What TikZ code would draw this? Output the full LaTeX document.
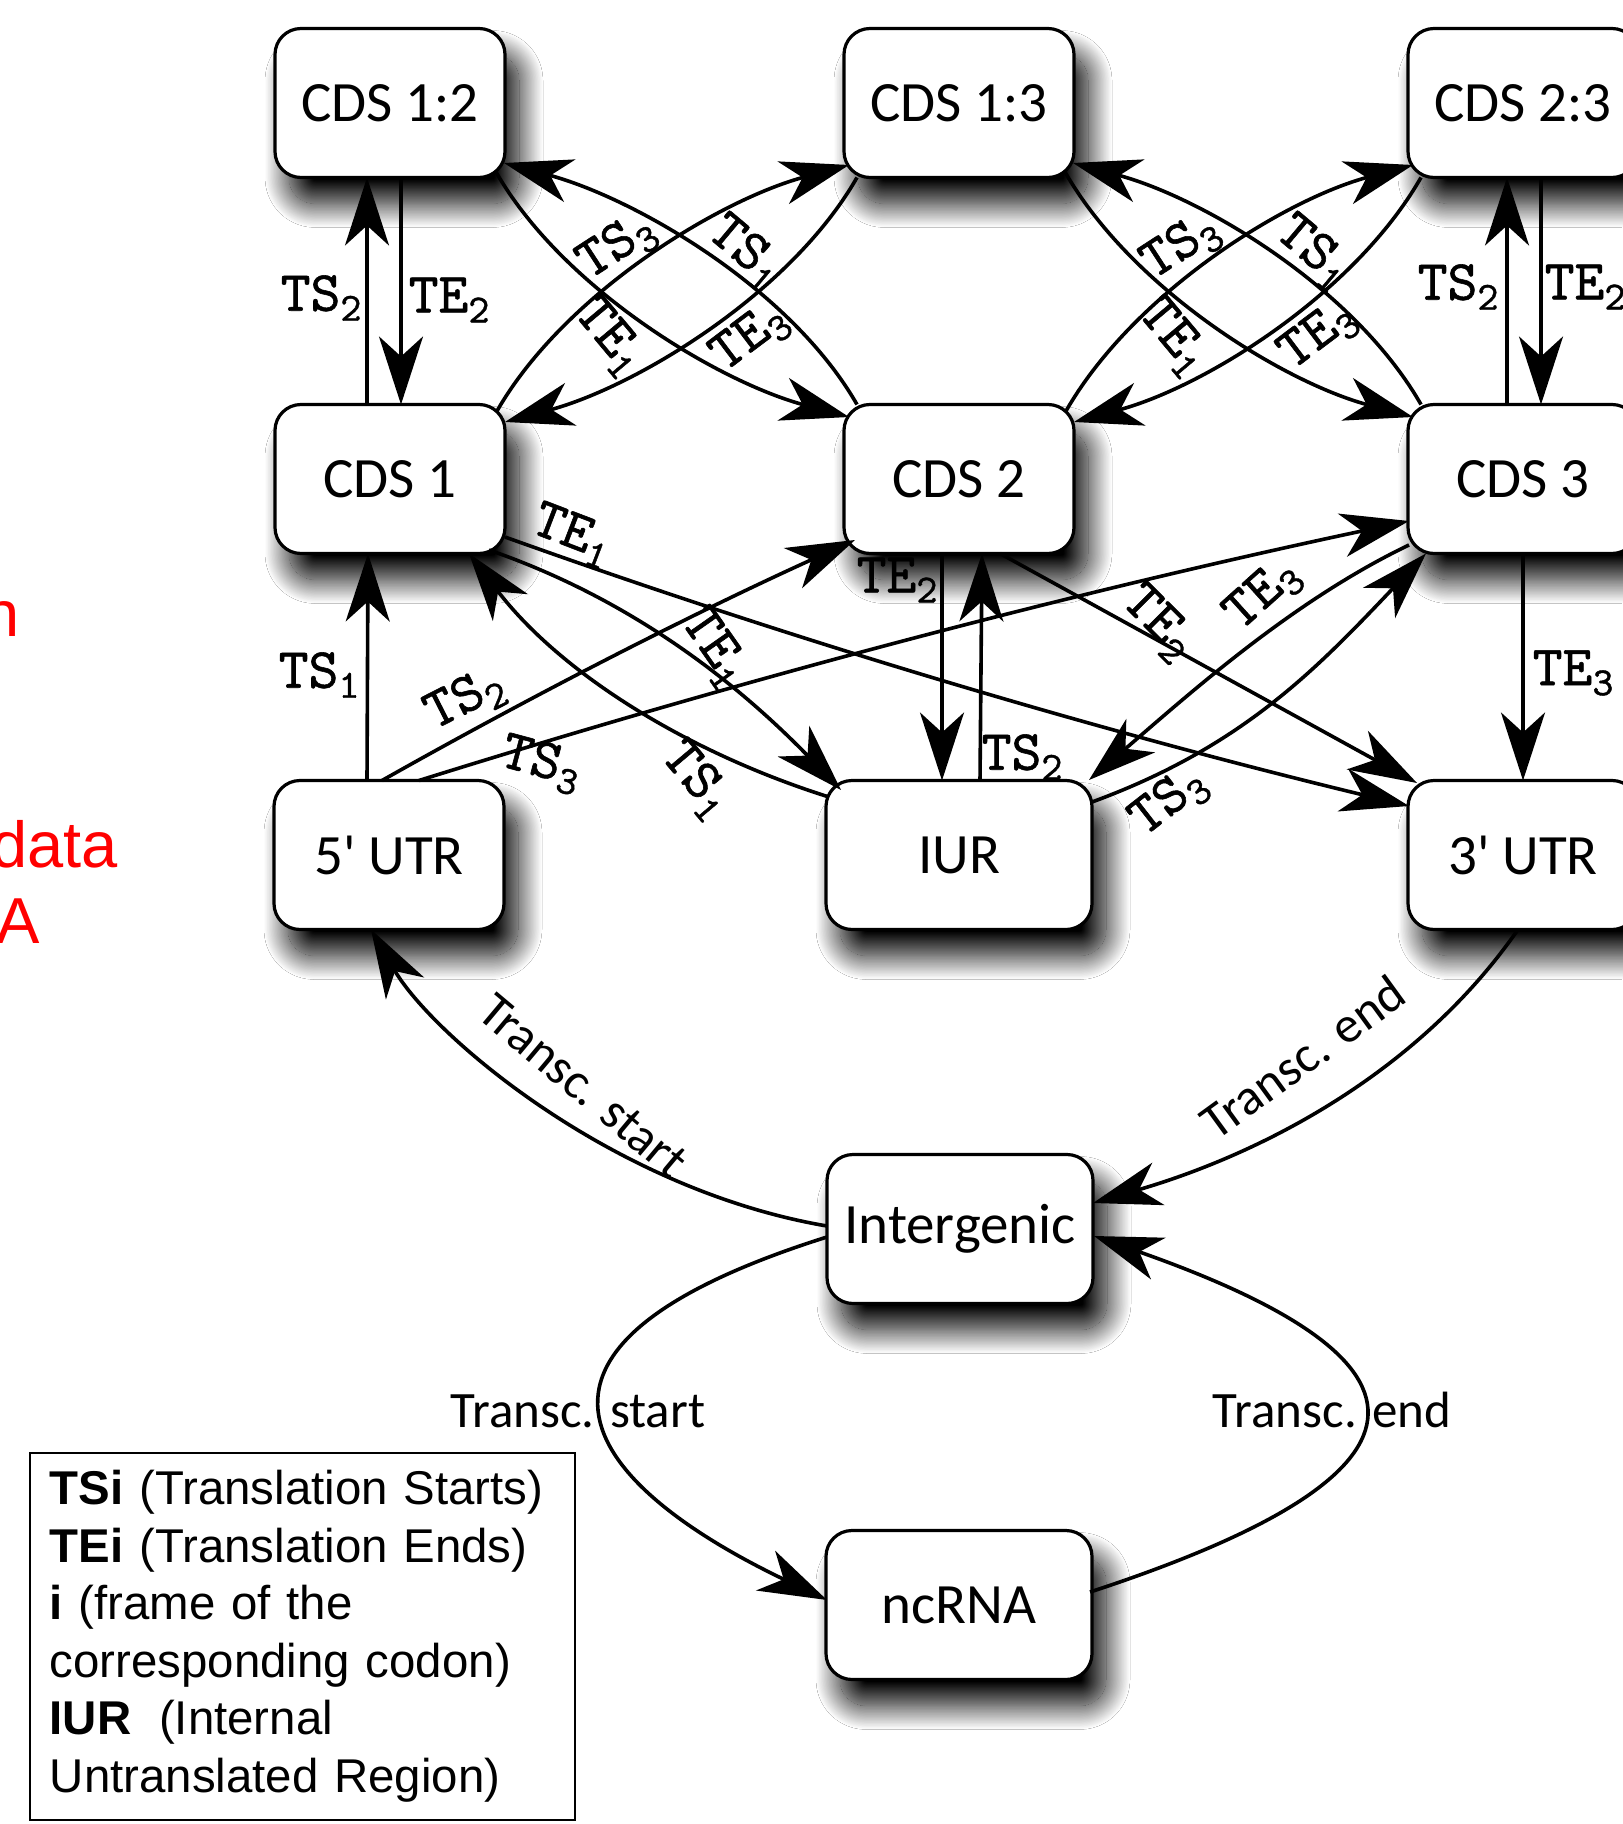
\documentclass[tikz,border=0pt]{standalone}
\usepackage{fontspec}
\setmainfont{Carlito}
\newfontfamily\nodefont{Carlito}
\newfontfamily\legfont{Liberation Sans}
\newfontfamily\labfont{lmmono10-regular.otf}[FakeBold=1]
\usetikzlibrary{arrows.meta,shadows.blur}
\newcommand\mylab[2]{{\labfont #1\raisebox{-5pt}{\fontsize{20}{20}\selectfont #2}}}
\begin{document}
\begin{tikzpicture}[x=0.5pt,y=-0.5pt,
  box/.style={draw=black, line width=1.6pt, fill=white, rounded corners=13pt,
    minimum width=115pt, minimum height=74.5pt, inner sep=0pt,
    font=\nodefont\fontsize{28.5}{30}\selectfont,
    blur shadow={shadow xshift=7pt, shadow yshift=-13pt, shadow blur radius=12pt,
      shadow blur steps=40, shadow opacity=100}},
  wbox/.style={box, minimum width=133pt},
  arr/.style={line width=1.8pt, -{Stealth[length=34pt,width=22pt,inset=10pt]}},
  lab/.style={inner sep=0pt, font=\fontsize{28.5}{30}\selectfont},
  tlab/.style={inner sep=0pt, font=\nodefont\fontsize{25.5}{27}\selectfont},
]
\fill[white] (0,0) rectangle (1622,1824);
\useasboundingbox (0,0) rectangle (1622,1824);

% nodes
\node[box] (c12) at (390,103) {CDS 1:2};
\node[box] (c13) at (959,103) {CDS 1:3};
\node[box] (c23) at (1523,103) {CDS 2:3};
\node[box] (c1) at (390,479) {CDS 1};
\node[box] (c2) at (959,479) {CDS 2};
\node[box] (c3) at (1523,479) {CDS 3};
\node[box] (u5) at (389,855) {5' UTR};
\node[wbox] (iur) at (959,855) {IUR};
\node[box] (u3) at (1523,855) {3' UTR};
\node[wbox] (ig) at (960,1229) {Intergenic};
\node[wbox] (nc) at (959,1605) {ncRNA};

% top-left verticals
\draw[arr] ([shift={(-23,-74.5)}]c1.center) -- ([shift={(-23,74.5)}]c12.center);
\draw[arr] ([shift={(11,74.5)}]c12.center) -- ([shift={(11,-74.5)}]c1.center);
% top-left cross
\draw[arr] ([shift={(106,69)}]c12.center) .. controls +(67,117) and +(-130,-35) .. ([shift={(-110,-62)}]c2.center);
\draw[arr] ([shift={(-102,-74.5)}]c2.center) .. controls +(-67,-117) and +(130,35) .. ([shift={(114,60)}]c12.center);
\draw[arr] ([shift={(107,-68)}]c1.center) .. controls +(67,-117) and +(-130,35) .. ([shift={(-110,62)}]c13.center);
\draw[arr] ([shift={(-102,74.5)}]c13.center) .. controls +(-67,117) and +(130,-35) .. ([shift={(115,-57)}]c1.center);
% top-right cross
\draw[arr] ([shift={(106,69)}]c13.center) .. controls +(67,117) and +(-130,-35) .. ([shift={(-110,-62)}]c3.center);
\draw[arr] ([shift={(-102,-74.5)}]c3.center) .. controls +(-67,-117) and +(130,35) .. ([shift={(114,60)}]c13.center);
\draw[arr] ([shift={(107,-68)}]c2.center) .. controls +(67,-117) and +(-130,35) .. ([shift={(-110,62)}]c23.center);
\draw[arr] ([shift={(-102,74.5)}]c23.center) .. controls +(-67,117) and +(130,-35) .. ([shift={(115,-57)}]c2.center);
% top-right verticals
\draw[arr] ([shift={(-16,-74.5)}]c3.center) -- ([shift={(-16,74.5)}]c23.center);
\draw[arr] ([shift={(18,74.5)}]c23.center) -- ([shift={(18,-74.5)}]c3.center);

% middle
\draw[arr] ([shift={(-22,-74.5)}]u5.center) -- ([shift={(-22,74.5)}]c1.center);
\draw[arr] ([shift={(-7,-74.5)}]u5.center) .. controls +(154,-87) and +(-161,73) .. ([shift={(-104,61)}]c2.center);
\draw[arr] ([shift={(30,-74.5)}]u5.center) .. controls +(326,-102) and +(-334,71) .. ([shift={(-114,42)}]c3.center);
\draw[arr] ([shift={(115,58)}]c1.center) .. controls +(296,106) and +(-306,-74) .. ([shift={(-114,-49)}]u3.center);
\draw[arr] ([shift={(99,71)}]c1.center) .. controls +(142,49) and +(-105,-108) .. ([shift={(-118,-65)}]iur.center);
\draw[arr] ([shift={(-130,-58)}]iur.center) .. controls +(-143,-45) and +(91,119) .. ([shift={(79,74.5)}]c1.center);
\draw[arr] ([shift={(-17,74.5)}]c2.center) -- ([shift={(-17,-74.5)}]iur.center);
\draw[arr] ([shift={(21,-74.5)}]iur.center) -- ([shift={(23,74.5)}]c2.center);
\draw[arr] ([shift={(41,74.5)}]c2.center) -- ([shift={(-106,-72)}]u3.center);
\draw[arr] ([shift={(-114,66)}]c3.center) .. controls +(-117,56) and +(99,-85) .. ([shift={(130,-75)}]iur.center);
\draw[arr] ([shift={(133,-53)}]iur.center) .. controls +(150,-55) and +(-110,116) .. ([shift={(-97,74.5)}]c3.center);
\draw[arr] ([shift={(0,74.5)}]c3.center) -- ([shift={(0,-74.5)}]u3.center);

% bottom
\draw[arr] ([shift={(-133,-3)}]ig.center) .. controls +(-217,-37) and +(60,104) .. ([shift={(-18,74.5)}]u5.center);
\draw[arr] ([shift={(-5,74.5)}]u3.center) .. controls +(-100,144) and +(168,-49) .. ([shift={(133,-26)}]ig.center);
\draw[arr] ([shift={(-133,8)}]ig.center) .. controls +(-378,119) and +(-213,-102) .. ([shift={(-132,-5)}]nc.center);
\draw[arr] ([shift={(131,-13)}]nc.center) .. controls +(336,-110) and +(382,134) .. ([shift={(134,7)}]ig.center);

% labels top
\node[lab] (lA1) at (321,298) {\mylab{TS}{2}};
\node[lab] (lA2) at (449,300) {\mylab{TE}{2}};
\node[lab, rotate=33] (lA3) at (617,247) {\mylab{TS}{3}};
\node[lab, rotate=-40] (lA4) at (745,252) {\mylab{TS}{1}};
\node[lab, rotate=-50] (lA5) at (609,337) {\mylab{TE}{1}};
\node[lab, rotate=37] (lA6) at (750,338) {\mylab{TE}{3}};
\node[lab, rotate=33] (lB3) at (1181,247) {\mylab{TS}{3}};
\node[lab, rotate=-40] (lB4) at (1313,252) {\mylab{TS}{1}};
\node[lab, rotate=-50] (lB5) at (1173,337) {\mylab{TE}{1}};
\node[lab, rotate=37] (lB6) at (1318,336) {\mylab{TE}{3}};
\node[lab] (lB1) at (1458,287) {\mylab{TS}{2}};
\node[lab] (lB2) at (1585,287) {\mylab{TE}{2}};
% labels middle
\node[lab] (lC1) at (319,675) {\mylab{TS}{1}};
\node[lab, rotate=27] (lC2) at (465,700) {\mylab{TS}{2}};
\node[lab, rotate=-15] (lC3) at (541,764) {\mylab{TS}{3}};
\node[lab, rotate=-21] (lC4) at (572,535) {\mylab{TE}{1}};
\node[lab, rotate=-55] (lC5) at (714,648) {\mylab{TE}{1}};
\node[lab, rotate=-50] (lC6) at (696,780) {\mylab{TS}{1}};
\node[lab] (lC7) at (897,580) {\mylab{TE}{2}};
\node[lab] (lC8) at (1022,757) {\mylab{TS}{2}};
\node[lab, rotate=-45] (lC9) at (1158,623) {\mylab{TE}{2}};
\node[lab, rotate=42] (lC10) at (1263,595) {\mylab{TE}{3}};
\node[lab, rotate=38] (lC11) at (1169,802) {\mylab{TS}{3}};
\node[lab] (lC12) at (1573,673) {\mylab{TE}{3}};
% labels bottom
\node[tlab, rotate=-40] (lD1) at (583,1086) {Transc. start};
\node[tlab, rotate=36] (lD2) at (1303,1057) {Transc. end};
\node[tlab, anchor=base] (lD3) at (578,1427) {Transc. start};
\node[tlab, anchor=base] (lD4) at (1332,1427) {Transc. end};

% red fragments
\node[anchor=base east, inner sep=0pt, text=red, font=\legfont\fontsize{32.5}{39}\selectfont] (r1) at (20,636) {n};
\node[anchor=base east, inner sep=0pt, text=red, font=\legfont\fontsize{32.5}{39}\selectfont] (r2) at (118,867) {data};
\node[anchor=base east, inner sep=0pt, text=red, font=\legfont\fontsize{32.5}{39}\selectfont] (r3) at (40,943) {A};

% legend
\node[draw, line width=0.8pt, anchor=north west, minimum width=272.5pt, minimum height=183.5pt,
  text width=252.5pt, inner xsep=10pt, inner ysep=0pt, align=left,
  font=\legfont\fontsize{23.7}{28.75}\selectfont] (leg) at (29,1452)
  {\textbf{TSi} (Translation Starts)\\
   \textbf{TEi} (Translation Ends)\\
   \textbf{i} (frame of the\\
   corresponding codon)\\
   \textbf{IUR}\hspace{0.25em} (Internal\\
   Untranslated Region)};
\end{tikzpicture}
\end{document}
